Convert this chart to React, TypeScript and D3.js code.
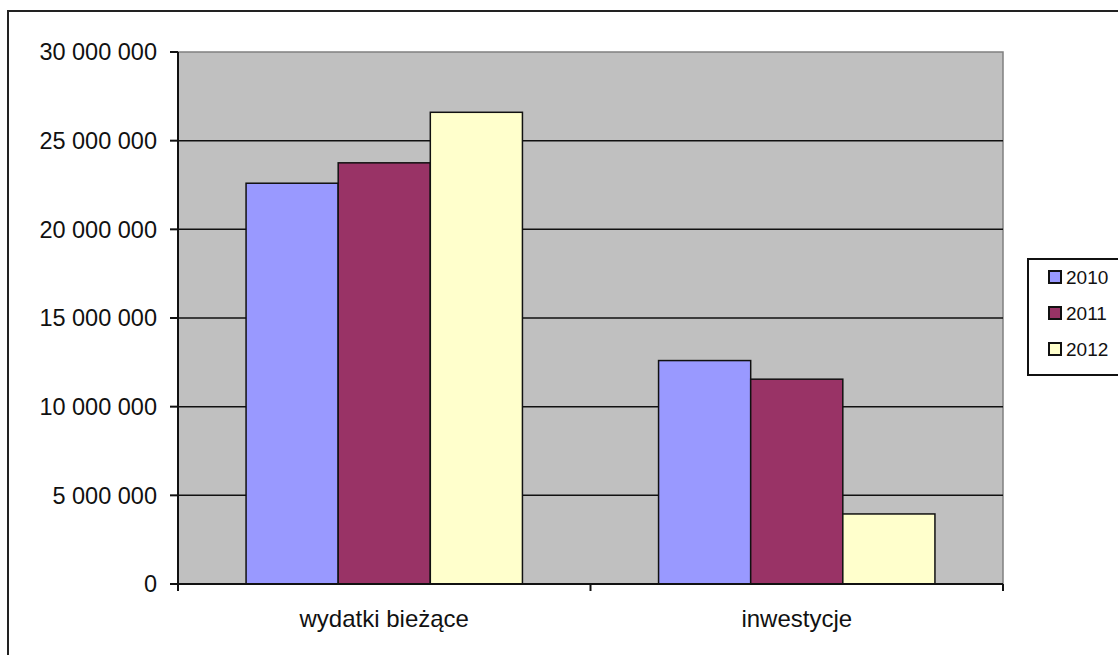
import { useEffect, useRef } from "react";
import * as d3 from "d3";

const categories = ["wydatki bieżące", "inwestycje"];
const years = ["2010", "2011", "2012"];
const values2010 = [22600000, 12600000];
const values2011 = [23750000, 11550000];
const values2012 = [26600000, 3950000];
const yTicks = [0, 5000000, 10000000, 15000000, 20000000, 25000000, 30000000];

const COLORS: Record<string, string> = {
  "2010": "#9999FF",
  "2011": "#993366",
  "2012": "#FFFFCC",
};
const FONT = "'Liberation Sans', Arial, sans-serif";

export default function App() {
  const ref = useRef<SVGSVGElement>(null);

  useEffect(() => {
    if (!ref.current) return;
    const svg = d3.select(ref.current);
    svg.selectAll("*").remove();

    const W = 1118;
    const H = 655;
    const mg = { l: 178, r: 1003, t: 52, b: 584 };
    const series = [values2010, values2011, values2012];

    // outer chart border (runs off the page right/bottom)
    svg.append("rect")
      .attr("x", 8).attr("y", 11)
      .attr("width", W + 20).attr("height", H + 20)
      .attr("fill", "#fff").attr("stroke", "#222").attr("stroke-width", 2);

    const x0 = d3.scaleBand<string>()
      .domain(categories)
      .range([mg.l, mg.r])
      .paddingInner(0.33)
      .paddingOuter(0.165);
    const x1 = d3.scaleBand<string>()
      .domain(years)
      .range([0, x0.bandwidth()]);
    const y = d3.scaleLinear().domain([0, 30000000]).range([mg.b, mg.t]);

    // plot area
    svg.append("rect")
      .attr("x", mg.l).attr("y", mg.t)
      .attr("width", mg.r - mg.l).attr("height", mg.b - mg.t)
      .attr("fill", "#C0C0C0").attr("stroke", "#808080").attr("stroke-width", 1.5);

    // grid
    yTicks.slice(1, -1).forEach((t) => {
      svg.append("line")
        .attr("x1", mg.l).attr("x2", mg.r)
        .attr("y1", y(t)).attr("y2", y(t))
        .attr("stroke", "#111").attr("stroke-width", 1.5);
    });

    // bars
    categories.forEach((c, ci) => {
      years.forEach((yr, si) => {
        const v = series[si][ci];
        svg.append("rect")
          .attr("x", x0(c)! + x1(yr)!)
          .attr("y", y(v))
          .attr("width", x1.bandwidth())
          .attr("height", y(0) - y(v))
          .attr("fill", COLORS[yr])
          .attr("stroke", "#111").attr("stroke-width", 1.5);
      });
    });

    // y axis
    svg.append("line")
      .attr("x1", mg.l).attr("x2", mg.l).attr("y1", mg.t).attr("y2", mg.b + 6)
      .attr("stroke", "#111").attr("stroke-width", 2);
    yTicks.forEach((t) => {
      svg.append("line")
        .attr("x1", mg.l - 8).attr("x2", mg.l)
        .attr("y1", y(t)).attr("y2", y(t))
        .attr("stroke", "#111").attr("stroke-width", 2);
      svg.append("text")
        .attr("x", 157).attr("y", y(t))
        .attr("dy", "0.36em")
        .attr("text-anchor", "end")
        .attr("font-family", FONT).attr("font-size", 23.5)
        .attr("fill", "#111")
        .text(d3.format(",")(t).replace(/,/g, " "));
    });

    // x axis
    svg.append("line")
      .attr("x1", mg.l).attr("x2", mg.r).attr("y1", mg.b).attr("y2", mg.b)
      .attr("stroke", "#111").attr("stroke-width", 2);
    const edges = [mg.l, (mg.l + mg.r) / 2, mg.r];
    edges.forEach((ex) => {
      svg.append("line")
        .attr("x1", ex).attr("x2", ex).attr("y1", mg.b).attr("y2", mg.b + 7)
        .attr("stroke", "#111").attr("stroke-width", 2);
    });
    categories.forEach((c) => {
      svg.append("text")
        .attr("x", x0(c)! + x0.bandwidth() / 2)
        .attr("y", 627)
        .attr("text-anchor", "middle")
        .attr("font-family", FONT).attr("font-size", 24)
        .attr("fill", "#111")
        .text(c);
    });

    // legend
    svg.append("rect")
      .attr("x", 1028).attr("y", 259)
      .attr("width", 120).attr("height", 116)
      .attr("fill", "#fff").attr("stroke", "#111").attr("stroke-width", 2);
    const legY = d3.scalePoint<string>().domain(years).range([277, 349]);
    years.forEach((yr) => {
      svg.append("rect")
        .attr("x", 1049).attr("y", legY(yr)! - 6)
        .attr("width", 12).attr("height", 12)
        .attr("fill", COLORS[yr]).attr("stroke", "#111").attr("stroke-width", 2);
      svg.append("text")
        .attr("x", 1066).attr("y", legY(yr)!)
        .attr("dy", "0.36em")
        .attr("font-family", FONT).attr("font-size", 19)
        .attr("fill", "#111")
        .text(yr);
    });
  }, []);

  return (
    <svg
      ref={ref}
      width={1118}
      height={655}
      style={{ position: "absolute", left: 0, top: 0, display: "block", background: "#fff" }}
    />
  );
}
